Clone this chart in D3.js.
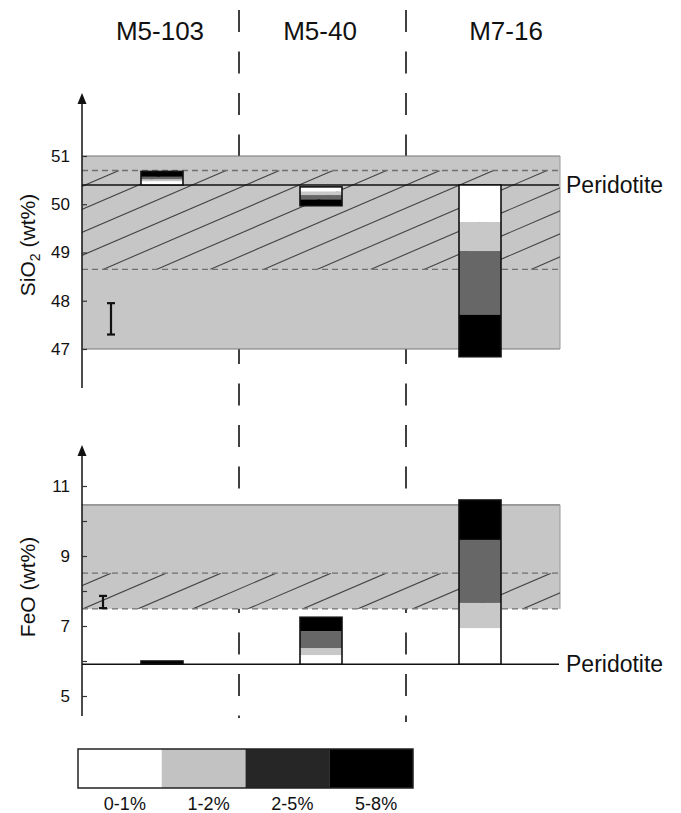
<!DOCTYPE html>
<html><head><meta charset="utf-8">
<script src="https://cdn.jsdelivr.net/npm/d3@7"></script>
<style>body{margin:0;background:#fff}svg{display:block}text{font-family:"Liberation Sans",Arial,sans-serif;fill:#111}</style>
</head><body>
<svg id="c" width="681" height="813"></svg>
<script>
// ---------- data ----------
const columns = ["M5-103", "M5-40", "M7-16"];
const classes = ["0-1%", "1-2%", "2-5%", "5-8%"];
const sio2Ticks = [47, 48, 49, 50, 51];
const feoTicks = [5, 6, 7, 8, 9, 10, 11];
const feoTickLabels = [5, 7, 9, 11];
const sio2Peridotite = 50.4;
const feoPeridotite = 5.91;
const sio2Range = [47, 51];          // grey field
const sio2Hatch = [48.65, 50.7];     // hatched field (dashed bounds)
const feoRange = [7.49, 10.46];
const feoHatch = [7.49, 8.51];
const sio2Error = [47.3, 47.95];
const feoError = [7.51, 7.86];
// segments: [column, from, to, class]
const sio2Segments = [
  ["M5-103", 50.40, 50.48, "0-1%"], ["M5-103", 50.48, 50.52, "1-2%"],
  ["M5-103", 50.52, 50.57, "2-5%"], ["M5-103", 50.57, 50.68, "5-8%"],
  ["M5-40", 50.26, 50.36, "0-1%"], ["M5-40", 50.19, 50.26, "1-2%"],
  ["M5-40", 50.10, 50.19, "2-5%"], ["M5-40", 49.97, 50.10, "5-8%"],
  ["M7-16", 49.63, 50.40, "0-1%"], ["M7-16", 49.03, 49.63, "1-2%"],
  ["M7-16", 47.71, 49.03, "2-5%"], ["M7-16", 46.84, 47.71, "5-8%"]
];
const feoSegments = [
  ["M5-103", 5.91, 6.00, "5-8%"],
  ["M5-40", 5.91, 6.17, "0-1%"], ["M5-40", 6.17, 6.37, "1-2%"],
  ["M5-40", 6.37, 6.85, "2-5%"], ["M5-40", 6.85, 7.25, "5-8%"],
  ["M7-16", 5.91, 6.94, "0-1%"], ["M7-16", 6.94, 7.66, "1-2%"],
  ["M7-16", 7.66, 9.46, "2-5%"], ["M7-16", 9.46, 10.6, "5-8%"]
];

// ---------- layout ----------
const svg = d3.select("#c");
const axisX = 82, fieldRight = 560;
const barW = 42;
const barFill = d3.scaleOrdinal().domain(classes).range(["#ffffff", "#c8c8c8", "#676767", "#000000"]);
const legFill = d3.scaleOrdinal().domain(classes).range(["#ffffff", "#c2c2c2", "#262626", "#000000"]);
const yS = d3.scaleLinear().domain([47, 51]).range([349, 156]);
const yF = d3.scaleLinear().domain([7, 11]).range([626, 486]);
const cx = c => ({"M5-103": 162, "M5-40": 321, "M7-16": 480})[c];

// column separators
[239, 406].forEach((xx, i) => {
  svg.append("line").attr("x1", xx).attr("x2", xx).attr("y1", 10).attr("y2", i ? 722 : 718)
    .attr("stroke", "#111").attr("stroke-width", 1.6).attr("stroke-dasharray", "22,19.5");
});
// column titles
svg.selectAll("text.col").data(columns).join("text").attr("class", "col")
  .attr("x", d => ({"M5-103": 160, "M5-40": 320, "M7-16": 506})[d]).attr("y", 40)
  .attr("text-anchor", "middle").attr("font-size", 26).text(d => d);

function panel(y, range, hatch, hatchPhase, hatchStep, hatchBottomDashed, peri, segs, err, errX, ticks, labels, axisTop, axisBottom, title, titleY, clipId) {
  const g = svg.append("g");
  g.append("rect").attr("x", axisX).attr("width", fieldRight - axisX)
    .attr("y", y(range[1])).attr("height", y(range[0]) - y(range[1]))
    .attr("fill", "#c6c6c6").attr("stroke", "none");
  g.append("line").attr("x1", axisX).attr("x2", fieldRight).attr("y1", y(range[1])).attr("y2", y(range[1])).attr("stroke", "#777").attr("stroke-width", 1.2);
  if (!hatchBottomDashed)
    g.append("line").attr("x1", axisX).attr("x2", fieldRight).attr("y1", y(range[0])).attr("y2", y(range[0])).attr("stroke", "#777").attr("stroke-width", 1.2);
  g.append("line").attr("x1", fieldRight).attr("x2", fieldRight).attr("y1", y(range[1])).attr("y2", y(range[0])).attr("stroke", "#999").attr("stroke-width", 1);
  // hatch
  const yt = y(hatch[1]), yb = y(hatch[0]);
  svg.append("clipPath").attr("id", clipId).append("rect").attr("x", axisX).attr("y", yt).attr("width", fieldRight - axisX).attr("height", yb - yt);
  const slope = 0.43, dx = (yb - yt) / slope;
  const starts = d3.range(hatchPhase - Math.ceil(dx / hatchStep + 2) * hatchStep, fieldRight + 10, hatchStep);
  g.append("g").attr("clip-path", `url(#${clipId})`).selectAll("line").data(starts).join("line")
    .attr("x1", d => d).attr("y1", yb).attr("x2", d => d + dx).attr("y2", yt)
    .attr("stroke", "#444").attr("stroke-width", 1.1);
  hatch.forEach(v => g.append("line").attr("x1", axisX).attr("x2", fieldRight + 2).attr("y1", y(v)).attr("y2", y(v))
    .attr("stroke", "#6f6f6f").attr("stroke-width", 1.3).attr("stroke-dasharray", "6,4"));
  // peridotite
  g.append("line").attr("x1", axisX).attr("x2", fieldRight - 1).attr("y1", y(peri)).attr("y2", y(peri)).attr("stroke", "#111").attr("stroke-width", 1.5);
  g.append("text").attr("x", 566).attr("y", y(peri)).attr("dy", "0.36em").attr("font-size", 23).text("Peridotite");
  // bars
  g.selectAll("rect.seg").data(segs).join("rect").attr("class", "seg")
    .attr("x", d => cx(d[0]) - barW / 2).attr("width", barW)
    .attr("y", d => y(d[2])).attr("height", d => y(d[1]) - y(d[2]))
    .attr("fill", d => barFill(d[3]));
  const outline = d3.rollups(segs, v => [d3.min(v, s => s[1]), d3.max(v, s => s[2])], s => s[0]);
  g.selectAll("rect.out").data(outline).join("rect").attr("class", "out")
    .attr("x", d => cx(d[0]) - barW / 2).attr("width", barW)
    .attr("y", d => y(d[1][1])).attr("height", d => y(d[1][0]) - y(d[1][1]))
    .attr("fill", "none").attr("stroke", "#111").attr("stroke-width", 1.6);
  // error bar
  const eg = g.append("g").attr("stroke", "#111").attr("stroke-width", 2.2);
  eg.append("line").attr("x1", errX).attr("x2", errX).attr("y1", y(err[0])).attr("y2", y(err[1]));
  [0, 1].forEach(i => eg.append("line").attr("x1", errX - 4).attr("x2", errX + 4).attr("y1", y(err[i])).attr("y2", y(err[i])));
  // axis
  g.append("line").attr("x1", axisX).attr("x2", axisX).attr("y1", axisBottom).attr("y2", axisTop + 8).attr("stroke", "#111").attr("stroke-width", 1.5);
  g.append("path").attr("d", `M${axisX},${axisTop} L${axisX - 4.5},${axisTop + 11} L${axisX + 4.5},${axisTop + 11} Z`).attr("fill", "#111");
  const ax = d3.axisLeft(y).tickValues(ticks).tickSize(-5).tickPadding(12).tickFormat(v => labels.includes(v) ? v : "");
  const a = g.append("g").attr("transform", `translate(${axisX},0)`).call(ax);
  a.select(".domain").remove();
  a.selectAll(".tick line").attr("stroke", "#333").attr("stroke-width", 1.2);
  a.selectAll(".tick text").attr("font-size", 17).attr("fill", "#111").attr("font-family", '"Liberation Sans",Arial,sans-serif');
  const t = g.append("text").attr("transform", `translate(35,${titleY}) rotate(-90)`).attr("text-anchor", "middle").attr("font-size", 21);
  title(t);
}

panel(yS, sio2Range, sio2Hatch, 103, 53.5, false, sio2Peridotite, sio2Segments, sio2Error, 111,
  sio2Ticks, sio2Ticks, 93, 388, t => {
    t.append("tspan").text("SiO");
    t.append("tspan").attr("font-size", 14).attr("dy", 5).text("2");
    t.append("tspan").attr("dy", -5).text(" (wt%)");
  }, 245, "clipS");

panel(yF, feoRange, feoHatch, 138, 55, true, feoPeridotite, feoSegments, feoError, 103,
  feoTicks, feoTickLabels, 445, 716, t => t.text("FeO (wt%)"), 587, "clipF");

// legend
const lg = svg.append("g");
const lx = d3.scaleBand().domain(classes).range([78, 413]);
lg.selectAll("rect").data(classes).join("rect")
  .attr("x", d => lx(d)).attr("width", lx.bandwidth()).attr("y", 749).attr("height", 39)
  .attr("fill", d => legFill(d));
lg.append("rect").attr("x", 78).attr("y", 749).attr("width", 335).attr("height", 39)
  .attr("fill", "none").attr("stroke", "#222").attr("stroke-width", 1.5);
lg.selectAll("text").data(classes).join("text")
  .attr("x", d => lx(d) + lx.bandwidth() / 2 + 5).attr("y", 810)
  .attr("text-anchor", "middle").attr("font-size", 18).text(d => d);
</script>
</body></html>
